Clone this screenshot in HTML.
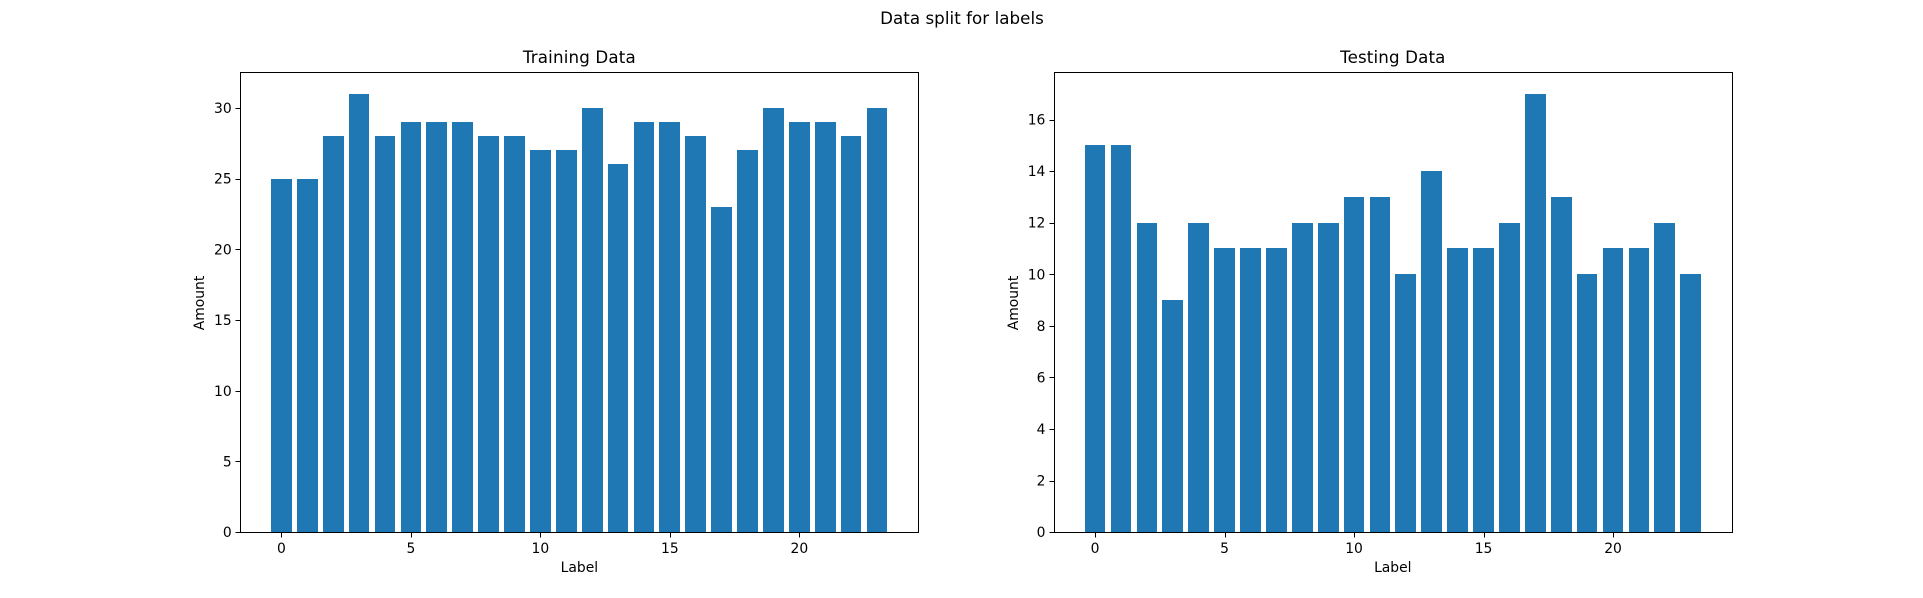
<!DOCTYPE html>
<html>
<head>
<meta charset="utf-8">
<style>
html,body{margin:0;padding:0;background:#fff;width:1923px;height:598px;overflow:hidden}
svg{display:block}
text{font-family:"DejaVu Sans","Liberation Sans",sans-serif;fill:#000}
</style>
</head>
<body>
<svg id="fig" xmlns="http://www.w3.org/2000/svg" width="1923" height="598" viewBox="0 0 1923 598">
<rect width="1923" height="598" fill="#fff"/>
<text x="962" y="24" font-size="16.67" letter-spacing="0.06" text-anchor="middle">Data split for labels</text>
<g id="train">
<text x="579.4" y="63" font-size="16.67" letter-spacing="0.17" text-anchor="middle">Training Data</text>
<text x="579.4" y="572" font-size="13.89" text-anchor="middle">Label</text>
<text transform="translate(204 303) rotate(-90)" font-size="13.89" text-anchor="middle">Amount</text>
</g>
<g id="test">
<text x="1392.8" y="63" font-size="16.67" letter-spacing="0.15" text-anchor="middle">Testing Data</text>
<text x="1392.8" y="572" font-size="13.89" text-anchor="middle">Label</text>
<text transform="translate(1018 303) rotate(-90)" font-size="13.89" text-anchor="middle">Amount</text>
</g>
</svg>
<script>
const categories = [0,1,2,3,4,5,6,7,8,9,10,11,12,13,14,15,16,17,18,19,20,21,22,23];
const trainValues = [25,25,28,31,28,29,29,29,28,28,27,27,30,26,29,29,28,23,27,30,29,29,28,30];
const testValues = [15,15,12,9,12,11,11,11,12,12,13,13,10,14,11,11,12,17,13,10,11,11,12,10];
const xTickLabels = [0,5,10,15,20];
const trainYTickLabels = [0,5,10,15,20,25,30];
const testYTickLabels = [0,2,4,6,8,10,12,14,16];

const NS = 'http://www.w3.org/2000/svg';
const BAR_WIDTH = 0.8;
const Y_MARGIN = 1.05;
const X_MARGIN = 0.05;

function make(parent, tag, attrs) {
  const el = document.createElementNS(NS, tag);
  for (const k in attrs) el.setAttribute(k, attrs[k]);
  parent.appendChild(el);
  return el;
}

function drawChart(groupId, prefix, values, yTicks, box) {
  const g = document.getElementById(groupId);
  const xLo = Math.min(...categories) - BAR_WIDTH / 2;
  const xHi = Math.max(...categories) + BAR_WIDTH / 2;
  const pad = (xHi - xLo) * X_MARGIN;
  const yMax = Math.max(...values) * Y_MARGIN;
  const xScale = v => box.left + (v - (xLo - pad)) / (xHi - xLo + 2 * pad) * (box.right - box.left);
  const yScale = v => box.bottom - v / yMax * (box.bottom - box.top);

  categories.forEach((c, i) => {
    const x0 = Math.round(xScale(c - BAR_WIDTH / 2));
    const x1 = Math.round(xScale(c + BAR_WIDTH / 2));
    const y0 = Math.round(yScale(values[i]));
    const y1 = Math.round(yScale(0));
    const bar = make(g, 'rect', {x: x0, y: y0, width: x1 - x0, height: y1 - y0, fill: '#1f77b4', 'shape-rendering': 'crispEdges'});
    
    
  });

  const L = Math.round(box.left) + 0.5, R = Math.round(box.right) + 0.5;
  const T = Math.round(box.top) + 0.5, B = Math.round(box.bottom) + 0.5;
  const frame = make(g, 'rect', {x: L, y: T, width: R - L, height: B - T, fill: 'none', stroke: '#000', 'stroke-width': 1, 'shape-rendering': 'crispEdges'});
  
  

  xTickLabels.forEach(t => {
    const x = Math.round(xScale(t)) + 0.5;
    const tick = make(g, 'line', {x1: x, x2: x, y1: B, y2: B + 5, stroke: '#000', 'stroke-width': 1, 'shape-rendering': 'crispEdges'});
    
    
    const label = make(g, 'text', {x: xScale(t), y: 553, 'font-size': 13.89, 'text-anchor': 'middle'});
    label.textContent = String(t);
    
    
  });

  yTicks.forEach(t => {
    const y = Math.round(yScale(t)) + 0.5;
    const tick = make(g, 'line', {x1: L - 5, x2: L, y1: y, y2: y, stroke: '#000', 'stroke-width': 1, 'shape-rendering': 'crispEdges'});
    
    
    const label = make(g, 'text', {x: box.left - 8.5, y: yScale(t) + 5, 'font-size': 13.89, 'text-anchor': 'end'});
    label.textContent = String(t);
    
    
  });
}

drawChart('train', 'training', trainValues, trainYTickLabels, {left: 240.2, right: 918.2, top: 71.8, bottom: 532.2});
drawChart('test', 'testing', testValues, testYTickLabels, {left: 1053.9, right: 1731.9, top: 71.8, bottom: 532.2});
</script>
</body>
</html>
